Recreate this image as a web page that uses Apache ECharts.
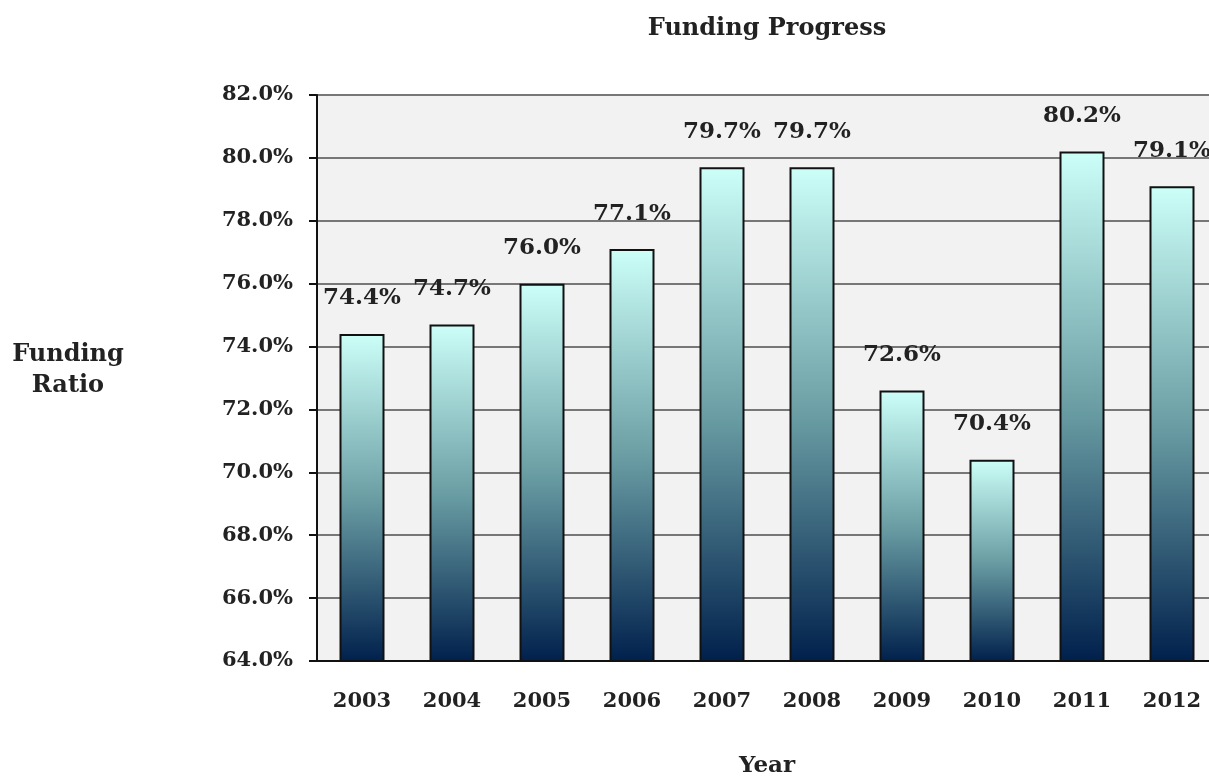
<!DOCTYPE html>
<html>
<head>
<meta charset="utf-8">
<script src="https://cdn.jsdelivr.net/npm/echarts@6/dist/echarts.min.js"></script>
<style>
  html, body { margin: 0; padding: 0; background: #fff; }
  #chart { width: 1209px; height: 780px; }
</style>
</head>
<body>
<div id="chart"></div>
<script>
const years = ['2003', '2004', '2005', '2006', '2007', '2008', '2009', '2010', '2011', '2012'];
const fundingRatio = [74.4, 74.7, 76.0, 77.1, 79.7, 79.7, 72.6, 70.4, 80.2, 79.1];
const labels = ['74.4%', '74.7%', '76.0%', '77.1%', '79.7%', '79.7%', '72.6%', '70.4%', '80.2%', '79.1%'];

const serif = '"DejaVu Serif", "Liberation Serif", serif';

const myChart = echarts.init(document.getElementById('chart'));

const option = {
  backgroundColor: '#fff',
  animation: false,
  title: {
    text: 'Funding Progress',
    left: 762,
    top: 12,
    textAlign: 'center',
    textStyle: { fontFamily: serif, fontWeight: 'bold', fontSize: 24, color: '#222' }
  },
  grid: {
    left: 317,
    top: 95,
    width: 900,
    bottom: 119,
    outerBoundsMode: 'none',
    show: true,
    backgroundColor: '#f2f2f2',
    borderWidth: 0
  },
  xAxis: {
    type: 'category',
    data: years,
    name: 'Year',
    nameLocation: 'middle',
    nameGap: 94,
    nameTextStyle: { fontFamily: serif, fontWeight: 'bold', fontSize: 23, color: '#222' },
    axisLine: { lineStyle: { color: '#111', width: 2 } },
    axisTick: { show: false },
    axisLabel: { fontFamily: serif, fontWeight: 'bold', fontSize: 21, color: '#222', margin: 30 }
  },
  yAxis: {
    type: 'value',
    min: 64,
    max: 82,
    interval: 2,
    axisLine: { show: true, lineStyle: { color: '#111', width: 2 } },
    axisTick: { show: true, length: 8, lineStyle: { color: '#111', width: 2 } },
    splitLine: { lineStyle: { color: '#777', width: 2 } },
    axisLabel: {
      fontFamily: serif, fontWeight: 'bold', fontSize: 21, color: '#222', margin: 24,
      formatter: v => v.toFixed(1) + '%'
    }
  },
  graphic: [{
    type: 'text',
    x: 68,
    y: 339,
    style: {
      text: 'Funding\nRatio',
      align: 'center',
      font: 'bold 24px ' + serif,
      fill: '#222',
      lineHeight: 31
    }
  }],
  series: [{
    type: 'bar',
    data: fundingRatio,
    barWidth: 45,
    itemStyle: {
      borderColor: '#111',
      borderWidth: 2,
      color: new echarts.graphic.LinearGradient(0, 0, 0, 1, [
        { offset: 0, color: '#ccfff8' },
        { offset: 0.5, color: '#6a9ea4' },
        { offset: 1, color: '#00204c' }
      ])
    },
    label: {
      show: true,
      position: 'top',
      distance: 24,
      fontFamily: serif,
      fontWeight: 'bold',
      fontSize: 23,
      color: '#222',
      formatter: p => labels[p.dataIndex]
    }
  }]
};

myChart.setOption(option);
</script>
</body>
</html>
